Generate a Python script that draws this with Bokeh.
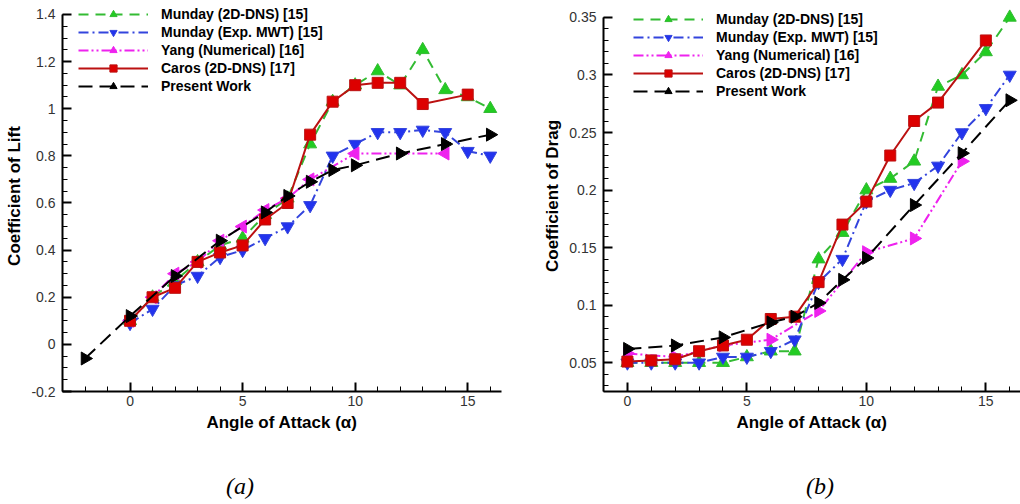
import math
from bokeh.plotting import figure
from bokeh.layouts import row, column
from bokeh.models import (Range1d, SingleIntervalTicker, CustomJSTickFormatter,
                          Legend, LegendItem, Div)
from bokeh.embed import file_html
from bokeh.resources import INLINE

# ---------------- data: coefficient of lift ----------------
lift_munday_dns_x = [0, 1, 2, 3, 4, 5, 6, 7, 8, 9, 10, 11, 12, 13, 14, 15, 16]
lift_munday_dns_y = [0.10, 0.20, 0.27, 0.35, 0.42, 0.45, 0.55, 0.62, 0.85, 1.03, 1.10, 1.16, 1.10, 1.25, 1.08, 1.05, 1.00]
lift_munday_exp_x = [0, 1, 2, 3, 4, 5, 6, 7, 8, 9, 10, 11, 12, 13, 14, 15, 16]
lift_munday_exp_y = [0.09, 0.15, 0.25, 0.29, 0.37, 0.40, 0.45, 0.50, 0.59, 0.80, 0.85, 0.90, 0.90, 0.91, 0.90, 0.82, 0.80]
lift_yang_x = [0, 1, 2, 3, 4, 5, 6, 7, 8, 10, 14]
lift_yang_y = [0.10, 0.20, 0.30, 0.35, 0.44, 0.50, 0.57, 0.62, 0.70, 0.81, 0.81]
lift_caros_x = [0, 1, 2, 3, 4, 5, 6, 7, 8, 9, 10, 11, 12, 13, 15]
lift_caros_y = [0.10, 0.20, 0.24, 0.35, 0.39, 0.42, 0.53, 0.60, 0.89, 1.03, 1.10, 1.11, 1.11, 1.02, 1.06]
lift_present_x = [-2, 0, 2, 4, 6, 7, 8, 9, 10, 12, 14, 16]
lift_present_y = [-0.06, 0.12, 0.29, 0.44, 0.56, 0.63, 0.69, 0.74, 0.76, 0.81, 0.85, 0.89]

# ---------------- data: coefficient of drag ----------------
drag_munday_dns_x = [0, 1, 2, 3, 4, 5, 6, 7, 8, 9, 10, 11, 12, 13, 14, 15, 16]
drag_munday_dns_y = [0.050, 0.050, 0.050, 0.050, 0.050, 0.055, 0.060, 0.060, 0.140, 0.163, 0.200, 0.210, 0.225, 0.290, 0.300, 0.320, 0.350]
drag_munday_exp_x = [0, 1, 2, 3, 4, 5, 6, 7, 8, 9, 10, 11, 12, 13, 14, 15, 16]
drag_munday_exp_y = [0.050, 0.050, 0.050, 0.050, 0.055, 0.055, 0.060, 0.070, 0.120, 0.140, 0.190, 0.200, 0.206, 0.221, 0.250, 0.271, 0.300]
drag_yang_x = [0, 2, 4, 6, 8, 10, 12, 14]
drag_yang_y = [0.058, 0.055, 0.065, 0.070, 0.095, 0.146, 0.158, 0.225]
drag_caros_x = [0, 1, 2, 3, 4, 5, 6, 7, 8, 9, 10, 11, 12, 13, 15]
drag_caros_y = [0.051, 0.052, 0.053, 0.060, 0.065, 0.070, 0.088, 0.090, 0.120, 0.170, 0.190, 0.230, 0.260, 0.276, 0.330]
drag_present_x = [0, 2, 4, 6, 7, 8, 9, 10, 12, 14, 16]
drag_present_y = [0.062, 0.065, 0.072, 0.085, 0.090, 0.102, 0.122, 0.141, 0.187, 0.232, 0.278]

series_labels = ["Munday (2D-DNS) [15]", "Munday (Exp. MWT) [15]", "Yang (Numerical) [16]",
                 "Caros (2D-DNS) [17]", "Present Work"]
captions = ["(a)", "(b)"]

FONT = "Liberation Sans"
fmt = CustomJSTickFormatter(code="return Number(tick.toFixed(3)).toString();")


def style_axes(p, xlabel, ylabel, yint, yminor, ybounds):
    p.outline_line_color = None
    p.xgrid.visible = False
    p.ygrid.visible = False
    p.background_fill_color = "white"
    p.border_fill_color = "white"
    p.xaxis.ticker = SingleIntervalTicker(interval=5, num_minor_ticks=5)
    p.yaxis.ticker = SingleIntervalTicker(interval=yint, num_minor_ticks=yminor)
    p.yaxis.bounds = ybounds
    p.xaxis.formatter = fmt
    p.yaxis.formatter = fmt
    for ax in (p.xaxis[0], p.yaxis[0]):
        ax.axis_line_color = "black"
        ax.axis_line_width = 2
        ax.major_tick_in = 9
        ax.major_tick_out = 0
        ax.minor_tick_in = 5
        ax.minor_tick_out = 0
        ax.major_tick_line_width = 2
        ax.minor_tick_line_width = 1
        ax.major_tick_line_color = "black"
        ax.minor_tick_line_color = "black"
        ax.major_label_text_font = FONT
        ax.major_label_text_font_size = "14px"
        ax.major_label_text_color = "#333333"
        ax.axis_label_text_font = FONT
        ax.axis_label_text_font_size = "17px"
        ax.axis_label_text_font_style = "bold"
        ax.axis_label_text_color = "black"
    p.xaxis.axis_label = xlabel
    p.yaxis.axis_label = ylabel
    p.xaxis.major_label_standoff = 4
    p.yaxis.major_label_standoff = 7
    p.xaxis.axis_label_standoff = 4
    p.yaxis.axis_label_standoff = 4


def add_series(p, data, yang_angle):
    styles = [
        dict(color="#33bb33", fill="#22cc22", dash="10 7", marker="triangle", angle=0.0, size=13),
        dict(color="#3344dd", fill="#2233ee", dash="10 4 2 4", marker="inverted_triangle", angle=0.0, size=13),
        dict(color="#ee22ee", fill="#ee22ee", dash="10 3 2 3 2 3", marker="triangle", angle=yang_angle, size=13),
        dict(color="#bb1111", fill="#dd0000", dash="solid", marker="square", angle=0.0, size=11),
        dict(color="black", fill="black", dash="14 7", marker="triangle", angle=-math.pi / 2, size=13),
    ]
    items = []
    for (xs, ys), st, lab in zip(data, styles, series_labels):
        ln = p.line(xs, ys, line_color=st["color"], line_width=2, line_dash=st["dash"])
        sc = p.scatter(xs, ys, marker=st["marker"], size=st["size"], angle=st["angle"],
                       fill_color=st["fill"], line_color=st["color"], line_width=1)
        items.append(LegendItem(label=lab, renderers=[ln, sc]))
    return items


def make_legend(items, loc):
    lg = Legend(items=items, location=loc)
    lg.background_fill_alpha = 0
    lg.border_line_color = None
    lg.padding = 0
    lg.margin = 0
    lg.spacing = 0
    lg.glyph_width = 70
    lg.glyph_height = 18
    lg.label_height = 18
    lg.label_standoff = 13
    lg.label_text_font = FONT
    lg.label_text_font_size = "14px"
    lg.label_text_font_style = "bold"
    lg.label_text_color = "black"
    return lg


# ---------------- lift figure ----------------
p1 = figure(width=510, height=452, output_backend="svg", toolbar_location=None,
            x_range=Range1d(-3, 16.5), y_range=Range1d(-0.2, 1.4594),
            min_border_left=62, min_border_right=9, min_border_top=0, min_border_bottom=61)
style_axes(p1, "Angle of Attack (\u03b1)", "Coefficient of Lift", 0.2, 4, (-0.2, 1.401))
items1 = add_series(p1, [(lift_munday_dns_x, lift_munday_dns_y), (lift_munday_exp_x, lift_munday_exp_y),
                         (lift_yang_x, lift_yang_y), (lift_caros_x, lift_caros_y),
                         (lift_present_x, lift_present_y)], math.pi / 2)
p1.add_layout(make_legend(items1, (16, 296)))

# ---------------- drag figure ----------------
p2 = figure(width=510, height=452, output_backend="svg", toolbar_location=None,
            x_range=Range1d(-1, 16.45), y_range=Range1d(0.025, 0.3647),
            min_border_left=93, min_border_right=0, min_border_top=0, min_border_bottom=60)
style_axes(p2, "Angle of Attack (\u03b1)", "Coefficient of Drag", 0.05, 5, (0.025, 0.3501))
items2 = add_series(p2, [(drag_munday_dns_x, drag_munday_dns_y), (drag_munday_exp_x, drag_munday_exp_y),
                         (drag_yang_x, drag_yang_y), (drag_caros_x, drag_caros_y),
                         (drag_present_x, drag_present_y)], -math.pi / 2)
p2.add_layout(make_legend(items2, (30, 291)))


def caption_div(text, left):
    html = ("<div style=\"margin:0;padding:0;padding-left:%dpx;padding-top:22px;"
            "font-family:'Liberation Serif';font-style:italic;font-size:24px;"
            "line-height:24px;color:black\">%s</div>" % (left, text))
    return Div(text=html, width=510, height=52, margin=0)


layout = column(row(p1, p2), row(caption_div(captions[0], 226), caption_div(captions[1], 296)))
open("out.html", "w").write(file_html(layout, INLINE))
